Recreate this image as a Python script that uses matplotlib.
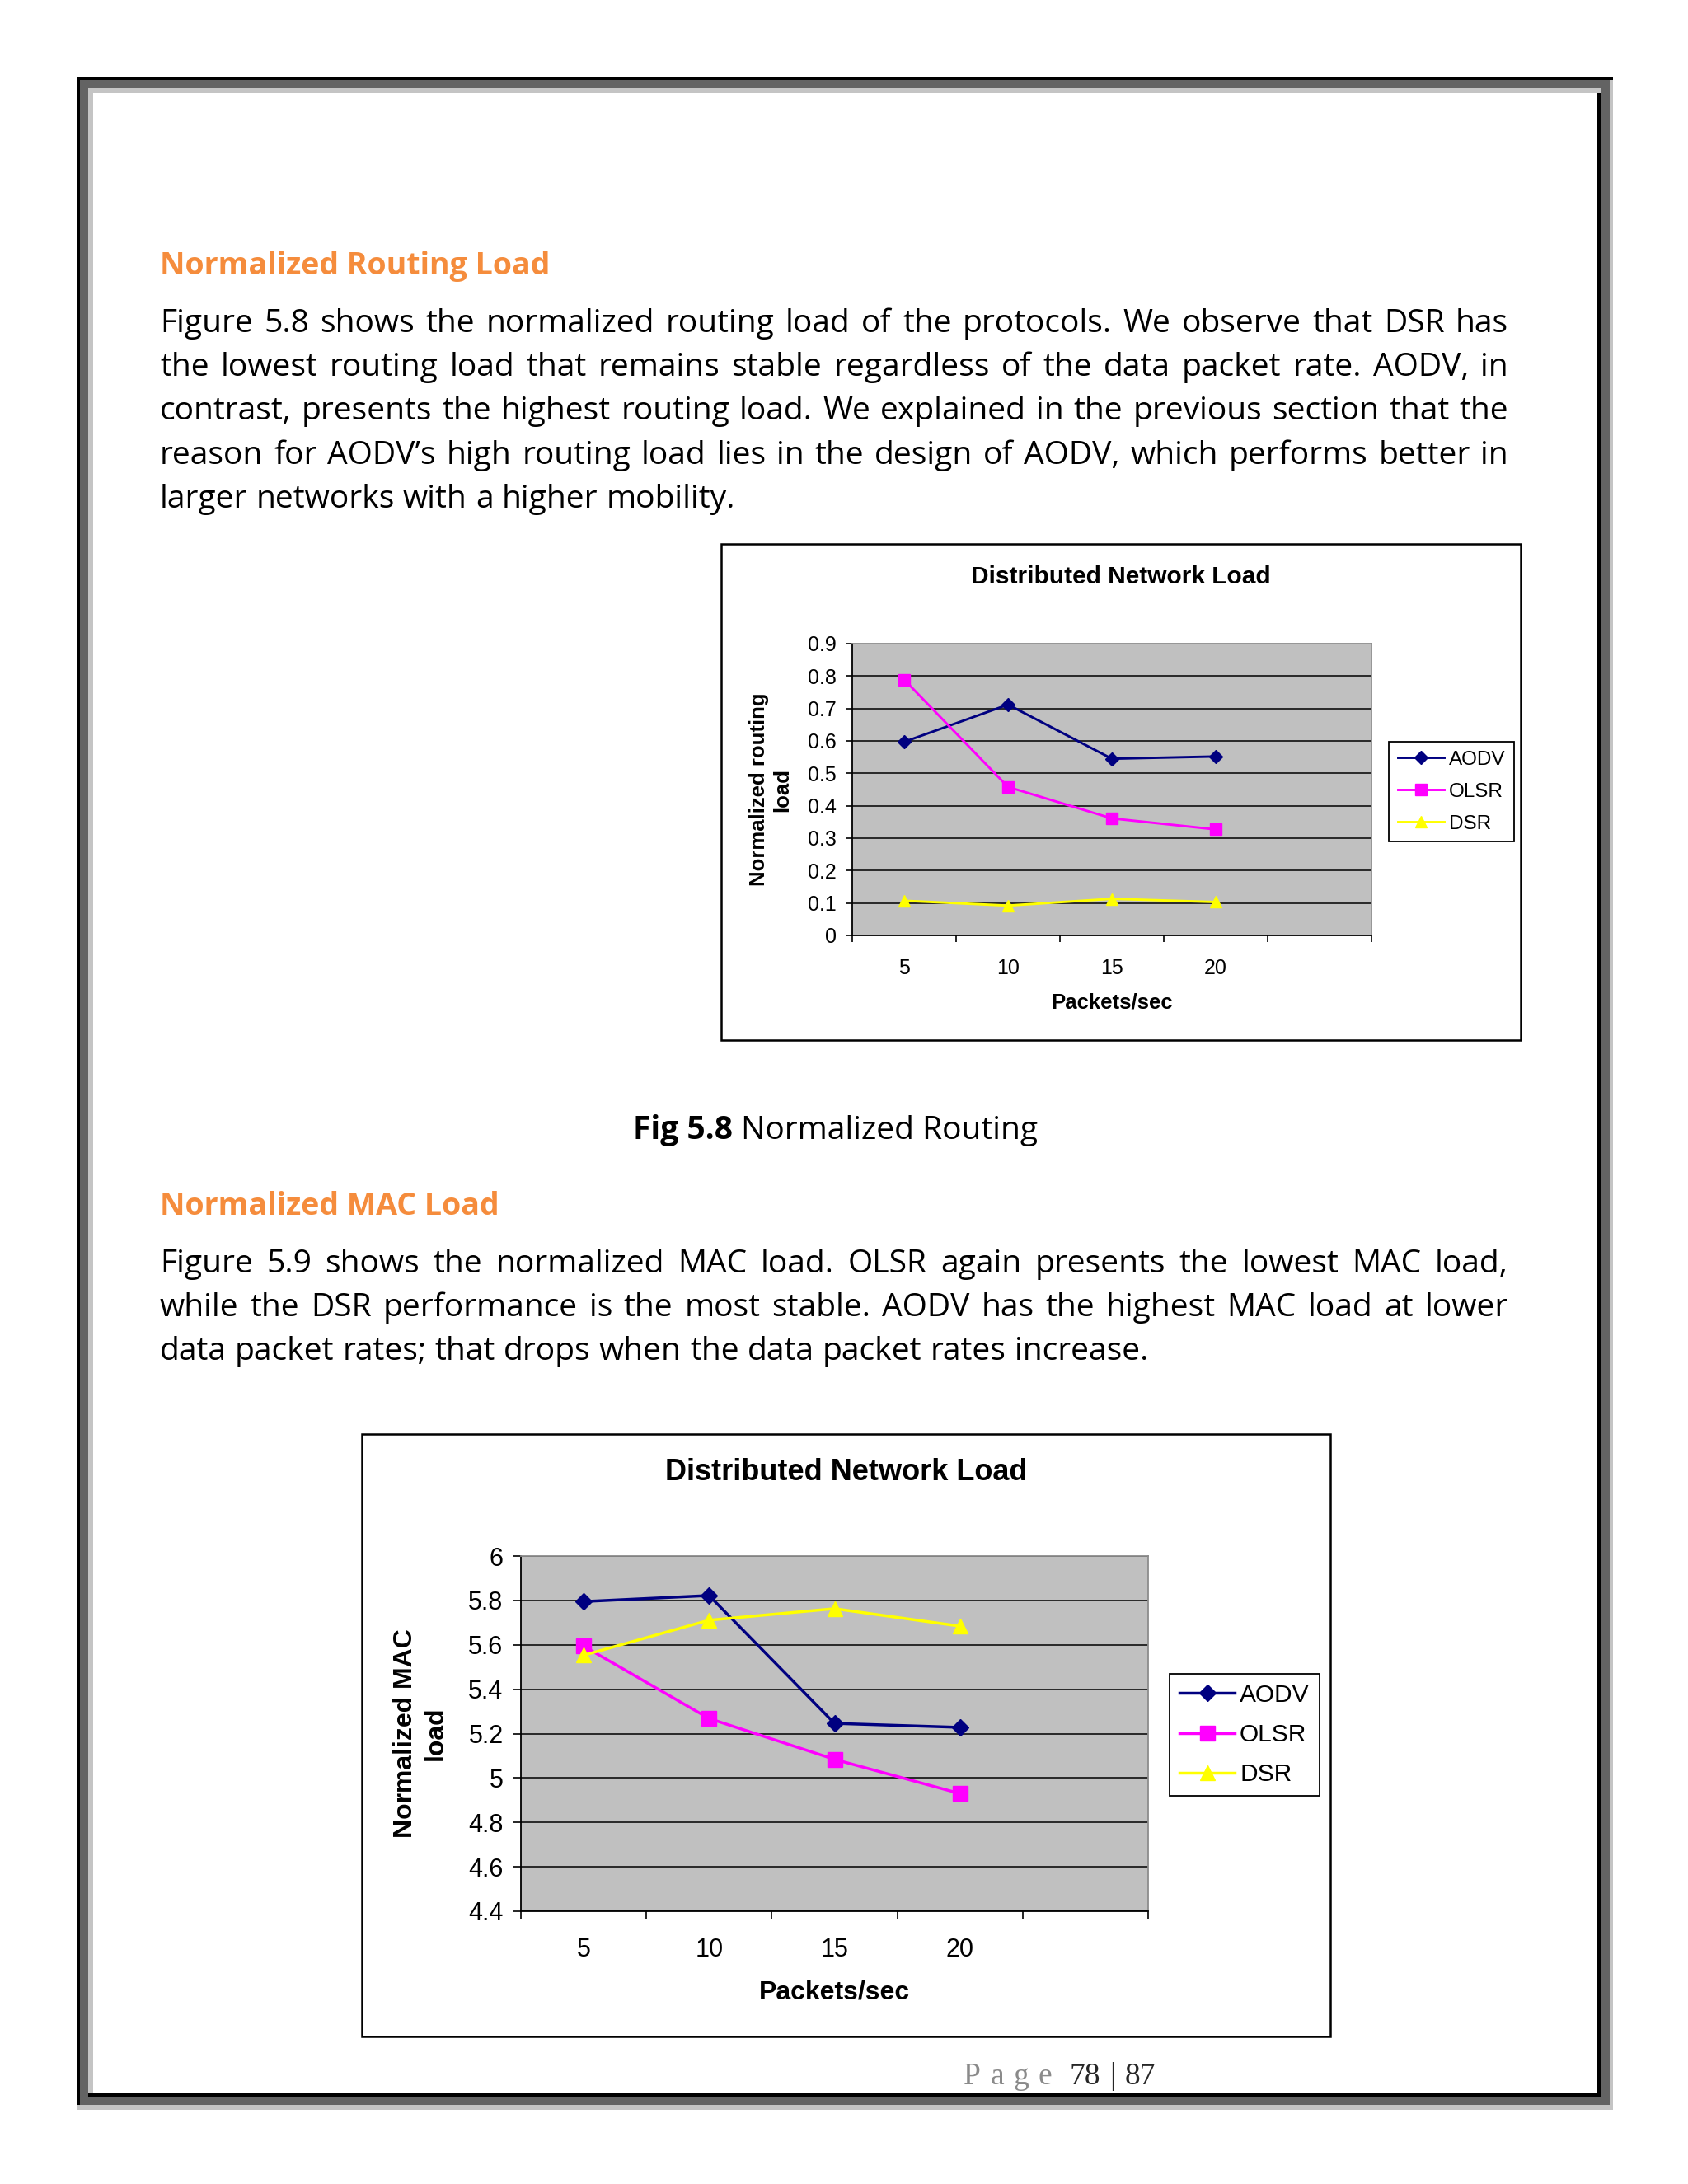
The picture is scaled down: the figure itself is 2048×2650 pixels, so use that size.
import numpy as np
import matplotlib
matplotlib.use("Agg")
import matplotlib.pyplot as plt
from matplotlib.patches import Rectangle
from matplotlib.ticker import FormatStrFormatter

W, H = 2048, 2650

# page text
heading1 = "Normalized Routing Load"
para1 = [
    "Figure 5.8 shows the normalized routing load of the protocols. We observe that DSR has",
    "the lowest routing load that remains stable regardless of the data packet rate. AODV, in",
    "contrast, presents the highest routing load. We explained in the previous section that the",
    "reason for AODV\u2019s high routing load lies in the design of AODV, which performs better in",
    "larger networks with a higher mobility.",
]
caption_bold = "Fig 5.8"
caption_rest = "Normalized Routing"
heading2 = "Normalized MAC Load"
para2 = [
    "Figure 5.9 shows the normalized MAC load. OLSR again presents the lowest MAC load,",
    "while the DSR performance is the most stable. AODV has the highest MAC load at lower",
    "data packet rates; that drops when the data packet rates increase.",
]
page_word = "Page"
page_no = "78"
page_total = "87"

# chart data
chart_title = "Distributed Network Load"
rates = ["5", "10", "15", "20"]
protocols = ["AODV", "OLSR", "DSR"]
routing_aodv = [0.597, 0.712, 0.545, 0.552]
routing_olsr = [0.789, 0.458, 0.361, 0.327]
routing_dsr = [0.107, 0.092, 0.113, 0.103]
mac_aodv = [5.795, 5.822, 5.246, 5.228]
mac_olsr = [5.594, 5.268, 5.084, 4.930]
mac_dsr = [5.553, 5.711, 5.763, 5.684]

BODY = "Open Sans"
CHART = "Liberation Sans"
SERIF = "Liberation Serif"
ORANGE = "#F58C3C"

fig = plt.figure(figsize=(W / 100, H / 100), dpi=100)
fig.patch.set_facecolor("white")
renderer = fig.canvas.get_renderer()


def fx(x):
    return x / W


def fy(y):
    return 1 - y / H


def rect(x0, y0, x1, y1, fc, ec="none", lw=0, z=-10):
    fig.add_artist(Rectangle((fx(x0), fy(y1)), (x1 - x0) / W, (y1 - y0) / H,
                             transform=fig.transFigure, facecolor=fc,
                             edgecolor=ec, linewidth=lw, zorder=z))


def width_of(s, **kw):
    t = fig.text(0, 0, s, **kw)
    w = t.get_window_extent(renderer).width
    t.remove()
    return w


# page frame with shadow
DARK, LIGHT = "#636363", "#c4c4c4"
rect(93, 93, 1953, 2554, DARK)
rect(93, 93, 1957, 97, "black")
rect(93, 93, 97, 2554, "black")
rect(1953, 97, 1957, 2560, LIGHT)
rect(93, 2554, 1957, 2560, LIGHT)
rect(107, 107, 1943, 2539, LIGHT)
rect(1937, 113, 1943, 2544, "black")
rect(107, 2539, 1943, 2544, "black")
rect(113, 113, 1937, 2539, "white")


def text_line(line, x0, x1, y, justify=True, **kw):
    words = line.split(" ")
    arts = [fig.text(fx(x0), fy(y), w, va="baseline", ha="left", **kw) for w in words]
    widths = [a.get_window_extent(renderer).width for a in arts]
    if justify and len(words) > 1:
        gap = (x1 - x0 - sum(widths)) / (len(words) - 1)
    else:
        gap = width_of("a a", **kw) - 2 * width_of("a", **kw)
    x = x0
    for a, w in zip(arts, widths):
        a.set_position((fx(x), fy(y)))
        x += w + gap
    return x - gap


LEFT, RIGHT = 194, 1830
# body size chosen so the first line nearly fills the text column
probe = width_of(para1[0], fontsize=24, family=BODY)
BODY_FS = 24 * (RIGHT - LEFT) * 0.975 / probe
HEAD_FS = 27

fig.text(fx(LEFT), fy(333), heading1, color=ORANGE, fontsize=HEAD_FS,
         fontweight="bold", family=BODY, va="baseline")
for i, (line, y) in enumerate(zip(para1, [403, 456, 509, 563, 616])):
    text_line(line, LEFT, RIGHT, y, justify=i < len(para1) - 1,
              fontsize=BODY_FS, family=BODY, color="black")

fig.text(fx(LEFT), fy(1474), heading2, color=ORANGE, fontsize=HEAD_FS,
         fontweight="bold", family=BODY, va="baseline")
for i, (line, y) in enumerate(zip(para2, [1544, 1597, 1650])):
    text_line(line, LEFT, RIGHT, y, justify=i < len(para2) - 1,
              fontsize=BODY_FS, family=BODY, color="black")

# caption
CAP_FS = BODY_FS
wb = width_of(caption_bold, fontsize=CAP_FS, family=BODY, fontweight="bold")
wr = width_of(" " + caption_rest, fontsize=CAP_FS, family=BODY)
cx0 = 1014 - (wb + wr) / 2
fig.text(fx(cx0), fy(1382), caption_bold, fontsize=CAP_FS, family=BODY,
         fontweight="bold", va="baseline")
fig.text(fx(cx0 + wb), fy(1382), " " + caption_rest, fontsize=CAP_FS,
         family=BODY, va="baseline")

# footer: letter-spaced "Page" then the page numbers
FOOT_FS = 27
lw_ = [width_of(ch, fontsize=FOOT_FS, family=SERIF) for ch in page_word]
gap = (1276 - 1169 - sum(lw_)) / (len(page_word) - 1)
x = 1169
for ch, w in zip(page_word, lw_):
    fig.text(fx(x), fy(2529), ch, fontsize=FOOT_FS, family=SERIF,
             color="#8a8a8a", va="baseline")
    x += w + gap
fig.text(fx(1298), fy(2529), page_no, fontsize=FOOT_FS, family=SERIF,
         color="#262626", va="baseline")
fig.text(fx(1346), fy(2529), "|", fontsize=FOOT_FS, family=SERIF,
         color="#262626", va="baseline")
fig.text(fx(1365), fy(2529), page_total, fontsize=FOOT_FS, family=SERIF,
         color="#262626", va="baseline")


def chart(box, plot, series, ylim, ystep, ylabel, fs, leg_xy, leg_kw,
          lw, sizes, xpad, tick_len, title_y, xlabel_y, ylabel_x, ylab_ls):
    bx0, by0, bx1, by1 = box
    rect(bx0, by0, bx1, by1, "white", ec="black", lw=1.8, z=-5)
    px0, py0, px1, py1 = plot
    ax = fig.add_axes([fx(px0), fy(py1), (px1 - px0) / W, (py1 - py0) / H])
    ax.set_facecolor("#c0c0c0")
    xs = np.arange(1, len(rates) + 1)
    styles = [("#000080", "D", sizes[0]), ("#ff00ff", "s", sizes[1]),
              ("#ffff00", "^", sizes[2])]
    for name, vals, (c, m, ms) in zip(protocols, series, styles):
        ax.plot(xs, vals, color=c, marker=m, ms=ms, lw=lw, label=name,
                markeredgecolor=c, clip_on=False, zorder=3)
    ax.set_xlim(0.5, 5.5)
    ax.set_ylim(*ylim)
    ax.set_yticks(np.round(np.arange(ylim[0], ylim[1] + ystep / 2, ystep), 2))
    ax.yaxis.set_major_formatter(FormatStrFormatter("%g"))
    ax.set_xticks(xs)
    ax.set_xticklabels(rates)
    ax.set_xticks(np.arange(0.5, 6, 1.0), minor=True)
    ax.tick_params(axis="x", which="major", length=0, pad=xpad,
                   labelsize=fs["tick"])
    ax.tick_params(axis="x", which="minor", length=tick_len, width=1.2,
                   direction="out", color="black")
    ax.tick_params(axis="y", length=tick_len, width=1.2, direction="out",
                   pad=8.5, labelsize=fs["tick"])
    for lab in ax.get_xticklabels() + ax.get_yticklabels():
        lab.set_family(CHART)
    ax.grid(axis="y", color="black", lw=1.1)
    ax.set_axisbelow(True)
    for s in ["left", "bottom"]:
        ax.spines[s].set_color("black")
        ax.spines[s].set_linewidth(1.3)
    for s in ["top", "right"]:
        ax.spines[s].set_color("#8c8c8c")
        ax.spines[s].set_linewidth(1.3)
    leg = ax.legend(loc="upper left", bbox_to_anchor=(fx(leg_xy[0]), fy(leg_xy[1])),
                    bbox_transform=fig.transFigure, frameon=True, fancybox=False,
                    edgecolor="black", framealpha=1, borderaxespad=0, numpoints=1,
                    prop={"family": CHART, "size": fs["legend"]}, **leg_kw)
    leg.get_frame().set_linewidth(1.3)
    fig.text(fx((bx0 + bx1) / 2), fy(title_y), chart_title, ha="center", va="center",
             fontsize=fs["title"], fontweight="bold", family=CHART)
    fig.text(fx((px0 + px1) / 2), fy(xlabel_y), "Packets/sec", ha="center",
             va="center", fontsize=fs["label"], fontweight="bold", family=CHART)
    fig.text(fx(ylabel_x), fy((py0 + py1) / 2), ylabel, ha="center", va="center",
             rotation=90, multialignment="center", fontsize=fs["label"],
             fontweight="bold", family=CHART, linespacing=ylab_ls)


chart((875, 660, 1845, 1262), (1034, 781, 1664, 1135),
      [routing_aodv, routing_olsr, routing_dsr], (0, 0.9), 0.1,
      "Normalized routing\nload",
      {"tick": 18, "legend": 17.5, "title": 21.5, "label": 18.5},
      (1685, 900),
      {"handlelength": 2.3, "handletextpad": 0.25, "labelspacing": 0.69,
       "borderpad": 0.45},
      2.1, (8.5, 10.5, 10.5), 20.5, 5.5, 700, 1217, 935, 1.2)

chart((439, 1740, 1614, 2471), (632, 1888, 1393, 2319),
      [mac_aodv, mac_olsr, mac_dsr], (4.4, 6.0), 0.2,
      "Normalized MAC\nload",
      {"tick": 22, "legend": 21.5, "title": 26, "label": 23},
      (1419, 2031),
      {"handlelength": 2.25, "handletextpad": 0.2, "labelspacing": 0.67,
       "borderpad": 0.4},
      2.5, (10.5, 13, 13), 23, 7, 1787, 2417, 510, 1.3)

fig.savefig("out.png", dpi=100, facecolor="white")
